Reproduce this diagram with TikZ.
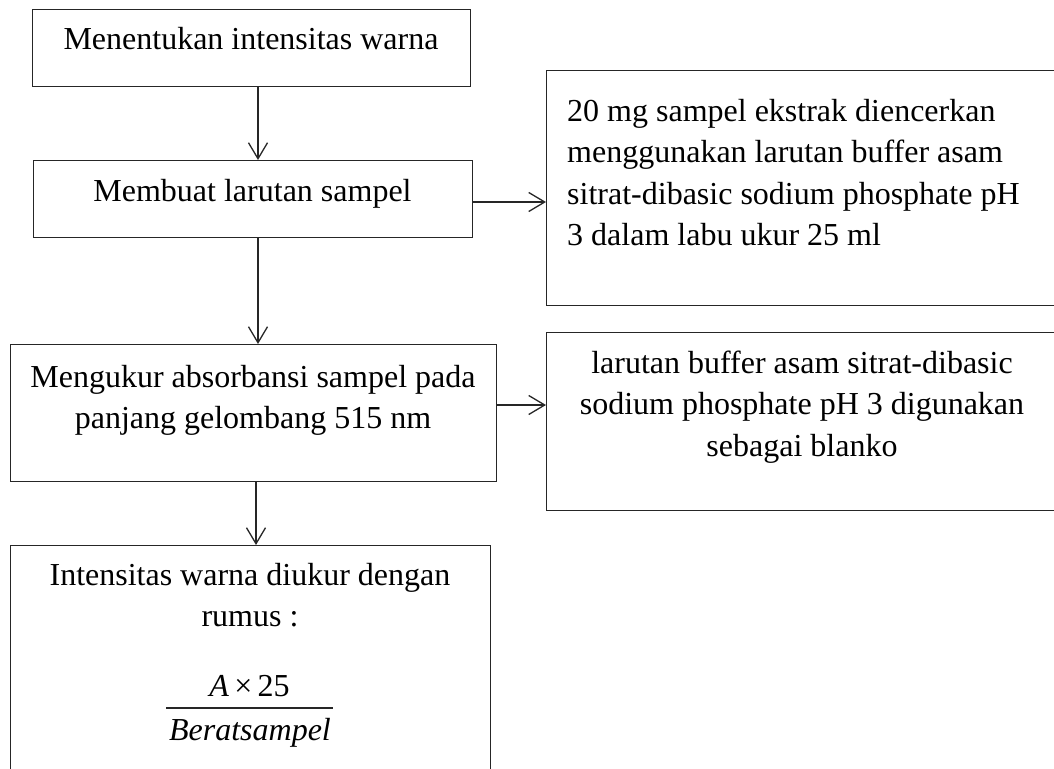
\documentclass[tikz,border=0pt]{standalone}
\usepackage{fontspec}
\setmainfont{Liberation Serif}
\usetikzlibrary{arrows.meta}
\begin{document}
\begin{tikzpicture}[x=1pt,y=-1pt,
  boxnode/.style={draw=black!85, line width=1.3pt, inner sep=0pt, anchor=north west},
  txt/.style={anchor=base, inner sep=0pt, font=\fontsize{32}{41.5}\selectfont},
  conn/.style={draw=black!85, line width=1.3pt, -{Straight Barb[length=16pt,width=19pt]}}]
\useasboundingbox (0,0) rectangle (1054,768);
\clip (0,0) rectangle (1054,768);
% boxes
\node[boxnode, minimum width=438pt, minimum height=77pt] (b1) at (32,9) {};
\node[boxnode, minimum width=439pt, minimum height=77pt] (b2) at (33,160) {};
\node[boxnode, minimum width=512pt, minimum height=235pt] (r1) at (546,70) {};
\node[boxnode, minimum width=486pt, minimum height=137pt] (b4) at (10,344) {};
\node[boxnode, minimum width=512pt, minimum height=178pt] (r2) at (546,332) {};
\node[boxnode, minimum width=480pt, minimum height=240pt] (b6) at (10,545) {};
% texts
\node[txt] (t1) at (251,49) {Menentukan intensitas warna};
\node[txt] (t2) at (252.5,201) {Membuat larutan sampel};
\node[txt, anchor=base west] (t3) at (567,121) {\parbox[t]{480pt}{\raggedright
  20 mg sampel ekstrak diencerkan\\
  menggunakan larutan buffer asam\\
  sitrat-dibasic sodium phosphate pH\\
  3 dalam labu ukur 25 ml}};
\node[txt] (t4) at (253,387) {\parbox[t]{480pt}{\centering
  Mengukur absorbansi sampel pada\\
  panjang gelombang 515 nm}};
\node[txt] (t5) at (802,373) {\parbox[t]{500pt}{\centering
  larutan buffer asam sitrat-dibasic\\
  sodium phosphate pH 3 digunakan\\
  sebagai blanko}};
\node[txt] (t6) at (250,585) {\parbox[t]{470pt}{\centering
  Intensitas warna diukur dengan\\
  rumus :}};
\node[txt] (num) at (249.5,696) {\textit{A}\,×\,25};
\node[txt] (den) at (250,740) {\textit{Beratsampel}};
\draw[draw=black!85, line width=1.3pt] (166,708) -- (333,708);
% connectors
\coordinate (xa) at (258,0);
\coordinate (xb) at (256,0);
\draw[conn] (b1.south -| xa) -- (b2.north -| xa);
\draw[conn] (b2.south -| xa) -- (b4.north -| xa);
\draw[conn] (b4.south -| xb) -- (b6.north -| xb);
\draw[conn] (b2.east |- 0,202) -- (r1.west |- 0,202);
\draw[conn] (b4.east |- 0,405) -- (r2.west |- 0,405);
\end{tikzpicture}
\end{document}
